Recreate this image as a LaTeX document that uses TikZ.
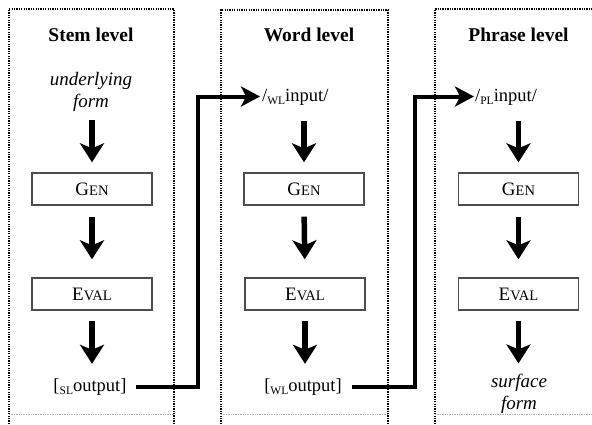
\documentclass[tikz,border=0pt]{standalone}
\usepackage{fontspec}
\setmainfont{Liberation Serif}
\usetikzlibrary{arrows.meta}

% faked small capitals: full-size initial, reduced capitals after it
\newcommand\fakesc[2]{#1{\fontsize{14.5}{15}\selectfont #2}}
% lowered level tag (SL, WL, PL)
\newcommand\lvtag[1]{\raisebox{-3.5pt}{\fontsize{11.5}{12}\selectfont #1}}

\begin{document}
\begin{tikzpicture}[x=1pt,y=-1pt,
  frame/.style={line width=1.4pt, dash pattern=on 1.3pt off 1.1pt},
  framebase/.style={line width=1pt, dash pattern=on 1.3pt off 1.1pt, black!30},
  title/.style={font=\fontsize{19.5}{21}\selectfont\bfseries, inner sep=0pt, anchor=base},
  form/.style={font=\fontsize{19}{22}\selectfont\itshape, align=center, inner sep=0pt},
  item/.style={font=\fontsize{18.5}{20}\selectfont, inner sep=0pt, text height=13pt, text depth=4pt, anchor=base},
  opbox/.style={draw=black!70, line width=1.4pt, minimum width=120pt, minimum height=32pt,
    inner sep=0pt, font=\fontsize{19}{20}\selectfont},
  down/.style={line width=5.5pt, -{Stealth[width=24pt,length=19pt,inset=5pt]}},
  link/.style={line width=4pt, -{Stealth[width=20pt,length=19pt,inset=5pt]}},
]
\useasboundingbox (0,0) rectangle (592,424);

% dotted level frames
\draw[frame] (9,424) -- (9,9) -- (174,9) -- (174,424);
\draw[framebase] (9,414) -- (174,414);
\draw[frame] (221,424) -- (221,10) -- (388,10) -- (388,424);
\draw[framebase] (221,414) -- (388,414);
\draw[frame] (435,424) -- (435,9) -- (592,9);
\draw[framebase] (435,414) -- (592,414);

% stem level
\node[title] (t1) at (91,41.5) {Stem level};
\node[form, anchor=base] (u1) at (91,107) {underlying\\form};
\node[opbox] (g1) at (92,189) {\fakesc{G}{EN}};
\node[opbox] (e1) at (92,294) {\fakesc{E}{VAL}};
\node[item] (o1) at (90,391) {[\lvtag{SL}output]};

% word level
\node[title] (t2) at (309,41.5) {Word level};
\node[item, anchor=base west] (i2) at (262,101) {/\lvtag{WL}input/};
\node[opbox] (g2) at (304,189) {\fakesc{G}{EN}};
\node[opbox] (e2) at (305,294) {\fakesc{E}{VAL}};
\node[item] (o2) at (303,391) {[\lvtag{WL}output]};

% phrase level
\node[title] (t3) at (518.5,41.5) {Phrase level};
\node[item, anchor=base west] (i3) at (475,101) {/\lvtag{PL}input/};
\node[opbox] (g3) at (518.5,189) {\fakesc{G}{EN}};
\node[opbox] (e3) at (518.5,294) {\fakesc{E}{VAL}};
\node[form, anchor=base] (s3) at (519,409) {surface\\form};

% evaluation steps
\draw[down, shorten <=9pt, shorten >=10pt] (g1.north |- u1.south) -- (g1.north);
\draw[down, shorten <=11pt, shorten >=18pt] (g1.south) -- (e1.north);
\draw[down, shorten <=10pt, shorten >=14pt] (e1.south) -- (e1.south |- o1.north);

\draw[down, shorten <=16pt, shorten >=10pt] (g2.north |- i2.south) -- (g2.north);
\draw[down, shorten <=11pt, shorten >=18pt] (g2.south) -- (e2.north);
\draw[down, shorten <=10pt, shorten >=14pt] (e2.south) -- (e2.south |- o2.north);

\draw[down, shorten <=16pt, shorten >=10pt] (g3.north |- i3.south) -- (g3.north);
\draw[down, shorten <=11pt, shorten >=18pt] (g3.south) -- (e3.north);
\draw[down, shorten <=10pt, shorten >=10pt] (e3.south) -- (e3.south |- s3.north);

% hand-over between levels
\coordinate (j1) at (198,0);
\coordinate (j2) at (415,0);
\draw[link, shorten <=9pt, shorten >=2pt] (o1.east) -- (o1.east -| j1) |- (i2.west);
\draw[link, shorten <=10pt, shorten >=1pt] (o2.east) -- (o2.east -| j2) |- (i3.west);
\end{tikzpicture}
\end{document}
